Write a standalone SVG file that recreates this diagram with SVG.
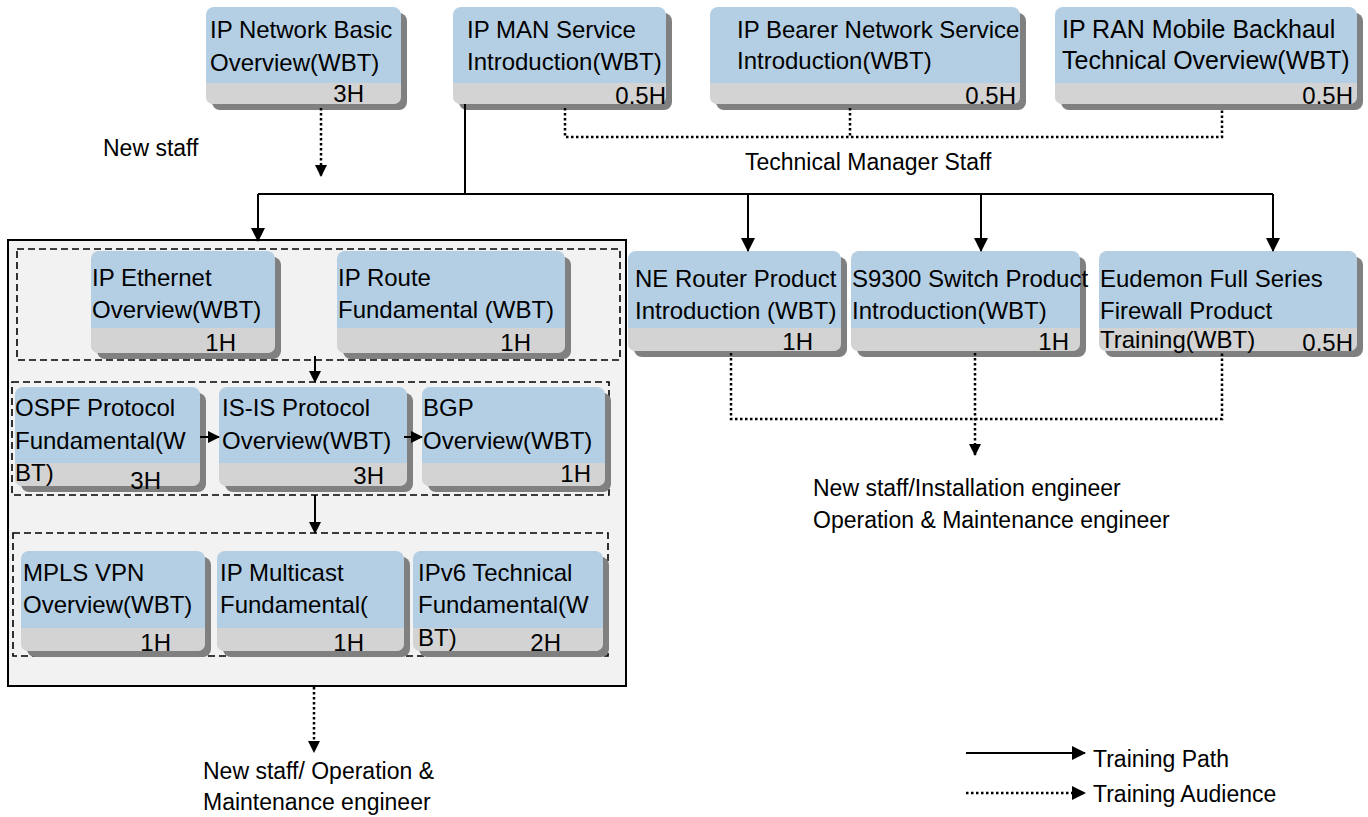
<svg xmlns="http://www.w3.org/2000/svg" width="1368" height="817" viewBox="0 0 1368 817">
<style>
text{font-family:"Liberation Sans",Arial,sans-serif;font-size:24px;fill:#000}
text.lb{font-size:23px}
text.big{font-size:25px}
.h{text-anchor:end}
.sh{fill:#808080}
.bl{fill:#b4cfe4}
.gr{fill:#d3d3d3}
.solid{stroke:#000;stroke-width:2;fill:none}
.dot{stroke:#000;stroke-width:2.5;stroke-dasharray:2.5 2.5;fill:none}
.dash{stroke:#000;stroke-width:1.6;stroke-dasharray:7 4;fill:none}
</style>
<defs>
<marker id="ah" markerWidth="14" markerHeight="14" refX="13" refY="7" orient="auto" markerUnits="userSpaceOnUse"><path d="M0,0 L14,7 L0,14 Z" fill="#000"/></marker>
<marker id="ahs" markerWidth="12" markerHeight="12" refX="11" refY="6" orient="auto" markerUnits="userSpaceOnUse"><path d="M0,0 L12,6 L0,12 Z" fill="#000"/></marker>
</defs>
<rect width="1368" height="817" fill="#fff"/>
<g id="container">
<rect x="8" y="240" width="618" height="446" fill="#f2f2f2" stroke="#000" stroke-width="2"/>
<rect class="dash" x="17" y="249" width="603" height="111"/>
<rect class="dash" x="12" y="382" width="597" height="113"/>
<rect class="dash" x="13" y="533" width="595" height="123"/>
</g>
<g id="n-ipnet">
<rect class="sh" x="212" y="13" width="195" height="97" rx="8"/>
<rect class="bl" x="206" y="7" width="195" height="97" rx="8"/>
<path class="gr" d="M206,83 H401 V96 Q401,104 393,104 H214 Q206,104 206,96 Z"/>
<text x="210" y="38">IP Network Basic</text><text x="210" y="71">Overview(WBT)</text>
<text class="h" x="364" y="102">3H</text>
</g>
<g id="n-ipman">
<rect class="sh" x="459" y="13" width="213" height="97" rx="8"/>
<rect class="bl" x="453" y="7" width="213" height="97" rx="8"/>
<path class="gr" d="M453,83 H666 V96 Q666,104 658,104 H461 Q453,104 453,96 Z"/>
<text x="467" y="38">IP MAN Service</text><text x="467" y="70">Introduction(WBT)</text>
<text class="h" x="666" y="104">0.5H</text>
</g>
<g id="n-bearer">
<rect class="sh" x="716" y="13" width="310" height="97" rx="8"/>
<rect class="bl" x="710" y="7" width="310" height="97" rx="8"/>
<path class="gr" d="M710,83 H1020 V96 Q1020,104 1012,104 H718 Q710,104 710,96 Z"/>
<text x="737" y="38">IP Bearer Network Service</text><text x="737" y="69">Introduction(WBT)</text>
<text class="h" x="1016" y="104">0.5H</text>
</g>
<g id="n-ran">
<rect class="sh" x="1061" y="13" width="302" height="97" rx="8"/>
<rect class="bl" x="1055" y="7" width="302" height="97" rx="8"/>
<path class="gr" d="M1055,83 H1357 V96 Q1357,104 1349,104 H1063 Q1055,104 1055,96 Z"/>
<text class="big" x="1062" y="38">IP RAN Mobile Backhaul</text><text class="big" x="1062" y="69">Technical Overview(WBT)</text>
<text class="h" x="1353" y="104">0.5H</text>
</g>
<g id="n-eth">
<rect class="sh" x="97" y="257" width="184" height="102" rx="8"/>
<rect class="bl" x="91" y="251" width="184" height="102" rx="8"/>
<path class="gr" d="M91,328 H275 V345 Q275,353 267,353 H99 Q91,353 91,345 Z"/>
<text x="92" y="286">IP Ethernet</text><text x="92" y="318">Overview(WBT)</text>
<text class="h" x="236" y="351">1H</text>
</g>
<g id="n-route">
<rect class="sh" x="343" y="257" width="228" height="102" rx="8"/>
<rect class="bl" x="337" y="251" width="228" height="102" rx="8"/>
<path class="gr" d="M337,328 H565 V345 Q565,353 557,353 H345 Q337,353 337,345 Z"/>
<text x="338" y="286">IP Route</text><text x="338" y="318">Fundamental (WBT)</text>
<text class="h" x="531" y="351">1H</text>
</g>
<g id="n-ne">
<rect class="sh" x="634" y="257" width="213" height="100" rx="8"/>
<rect class="bl" x="628" y="251" width="213" height="100" rx="8"/>
<path class="gr" d="M628,328 H841 V343 Q841,351 833,351 H636 Q628,351 628,343 Z"/>
<text x="635" y="287">NE Router Product</text><text x="635" y="319">Introduction (WBT)</text>
<text class="h" x="813" y="350">1H</text>
</g>
<g id="n-s9300">
<rect class="sh" x="857" y="257" width="229" height="100" rx="8"/>
<rect class="bl" x="851" y="251" width="229" height="100" rx="8"/>
<path class="gr" d="M851,328 H1080 V343 Q1080,351 1072,351 H859 Q851,351 851,343 Z"/>
<text x="852" y="287">S9300 Switch Product</text><text x="852" y="319">Introduction(WBT)</text>
<text class="h" x="1069" y="350">1H</text>
</g>
<g id="n-eudemon">
<rect class="sh" x="1105" y="257" width="258" height="100" rx="8"/>
<rect class="bl" x="1099" y="251" width="258" height="100" rx="8"/>
<path class="gr" d="M1099,328 H1357 V343 Q1357,351 1349,351 H1107 Q1099,351 1099,343 Z"/>
<text x="1100" y="287">Eudemon Full Series</text><text x="1100" y="319">Firewall Product</text><text x="1100" y="348">Training(WBT)</text>
<text class="h" x="1353" y="351">0.5H</text>
</g>
<g id="n-ospf">
<rect class="sh" x="21" y="393" width="185" height="99" rx="8"/>
<rect class="bl" x="15" y="387" width="185" height="99" rx="8"/>
<path class="gr" d="M15,463 H200 V478 Q200,486 192,486 H23 Q15,486 15,478 Z"/>
<text x="15" y="416">OSPF Protocol</text><text x="15" y="449">Fundamental(W</text><text x="15" y="481">BT)</text>
<text class="h" x="161" y="489">3H</text>
</g>
<g id="n-isis">
<rect class="sh" x="225" y="393" width="188" height="99" rx="8"/>
<rect class="bl" x="219" y="387" width="188" height="99" rx="8"/>
<path class="gr" d="M219,463 H407 V478 Q407,486 399,486 H227 Q219,486 219,478 Z"/>
<text x="222" y="416">IS-IS Protocol</text><text x="222" y="449">Overview(WBT)</text>
<text class="h" x="384" y="484">3H</text>
</g>
<g id="n-bgp">
<rect class="sh" x="428" y="393" width="183" height="99" rx="8"/>
<rect class="bl" x="422" y="387" width="183" height="99" rx="8"/>
<path class="gr" d="M422,463 H605 V478 Q605,486 597,486 H430 Q422,486 422,478 Z"/>
<text x="423" y="416">BGP</text><text x="423" y="449">Overview(WBT)</text>
<text class="h" x="591" y="482">1H</text>
</g>
<g id="n-mpls">
<rect class="sh" x="27" y="557" width="184" height="100" rx="8"/>
<rect class="bl" x="21" y="551" width="184" height="100" rx="8"/>
<path class="gr" d="M21,628 H205 V643 Q205,651 197,651 H29 Q21,651 21,643 Z"/>
<text x="23" y="581">MPLS VPN</text><text x="23" y="613">Overview(WBT)</text>
<text class="h" x="171" y="651">1H</text>
</g>
<g id="n-mcast">
<rect class="sh" x="223" y="557" width="187" height="100" rx="8"/>
<rect class="bl" x="217" y="551" width="187" height="100" rx="8"/>
<path class="gr" d="M217,628 H404 V643 Q404,651 396,651 H225 Q217,651 217,643 Z"/>
<text x="220" y="581">IP Multicast</text><text x="220" y="613">Fundamental(</text>
<text class="h" x="364" y="651">1H</text>
</g>
<g id="n-ipv6">
<rect class="sh" x="419" y="557" width="190" height="100" rx="8"/>
<rect class="bl" x="413" y="551" width="190" height="100" rx="8"/>
<path class="gr" d="M413,628 H603 V643 Q603,651 595,651 H421 Q413,651 413,643 Z"/>
<text x="418" y="581">IPv6 Technical</text><text x="418" y="613">Fundamental(W</text><text x="418" y="646">BT)</text>
<text class="h" x="561" y="651">2H</text>
</g>
<g id="connectors">
<path class="solid" d="M465,104 V194 M258,194 H1273"/>
<path class="solid" d="M258,194 V241" marker-end="url(#ah)"/>
<path class="solid" d="M748,194 V251" marker-end="url(#ah)"/>
<path class="solid" d="M981,194 V251" marker-end="url(#ah)"/>
<path class="solid" d="M1273,194 V251" marker-end="url(#ah)"/>
<path class="solid" d="M315,356 V382" marker-end="url(#ahs)"/>
<path class="solid" d="M315,495 V533" marker-end="url(#ahs)"/>
<path class="solid" d="M200,437 H219" marker-end="url(#ahs)"/>
<path class="solid" d="M404,437 H422" marker-end="url(#ahs)"/>
<path class="dot" d="M565,108 V137 H1222 V108 M850,108 V137"/>
<path class="dot" d="M321,108 V176" marker-end="url(#ahs)"/>
<path class="dot" d="M731,353 V419 H1222 V353"/>
<path class="dot" d="M975,353 V455" marker-end="url(#ahs)"/>
<path class="dot" d="M314,687 V752" marker-end="url(#ahs)"/>
</g>
<g id="labels">
<text class="lb" x="103" y="156">New staff</text>
<text class="lb" x="745" y="170">Technical Manager Staff</text>
<text class="lb" x="813" y="496">New staff/Installation engineer</text>
<text class="lb" x="813" y="528">Operation &amp; Maintenance engineer</text>
<text class="lb" x="203" y="779">New staff/ Operation &amp;</text>
<text class="lb" x="203" y="810">Maintenance engineer</text>
</g>
<g id="legend">
<path class="solid" d="M966,753 H1085" marker-end="url(#ah)"/>
<path class="dot" d="M966,793 H1085" marker-end="url(#ah)"/>
<text class="lb" x="1093" y="767">Training Path</text>
<text class="lb" x="1093" y="802">Training Audience</text>
</g>
</svg>
